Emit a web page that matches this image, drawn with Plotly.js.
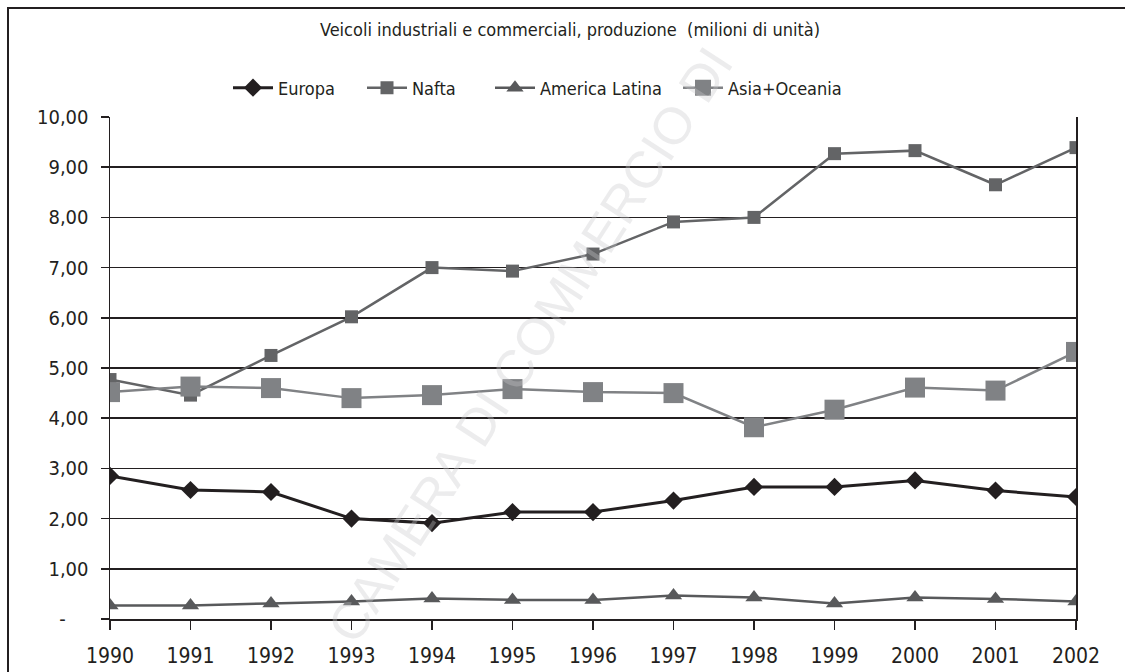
<!DOCTYPE html>
<html>
<head>
<meta charset="utf-8">
<script src="https://cdn.plot.ly/plotly-3.0.1.min.js"></script>
<style>
  html, body { margin: 0; padding: 0; background: #ffffff; }
  #chart { width: 1125px; height: 672px; }
</style>
</head>
<body>
<div id="chart"></div>
<script>
const years = [1990, 1991, 1992, 1993, 1994, 1995, 1996, 1997, 1998, 1999, 2000, 2001, 2002];
const europa = [2.85, 2.57, 2.53, 2.00, 1.91, 2.13, 2.13, 2.36, 2.63, 2.63, 2.76, 2.56, 2.43];
const nafta = [4.77, 4.46, 5.25, 6.02, 7.00, 6.93, 7.27, 7.91, 8.00, 9.27, 9.33, 8.65, 9.39];
const americaLatina = [0.27, 0.27, 0.31, 0.35, 0.41, 0.38, 0.38, 0.47, 0.43, 0.31, 0.43, 0.40, 0.35];
const asiaOceania = [4.52, 4.63, 4.60, 4.40, 4.46, 4.58, 4.52, 4.50, 3.82, 4.17, 4.61, 4.55, 5.32];
const seriesNames = ['Europa', 'Nafta', 'America Latina', 'Asia+Oceania'];
const yTickVals = [0, 1, 2, 3, 4, 5, 6, 7, 8, 9, 10];
const yTickText = ['-\u00a0\u00a0\u00a0\u00a0', '1,00', '2,00', '3,00', '4,00', '5,00', '6,00', '7,00', '8,00', '9,00', '10,00'];
const titleText = 'Veicoli industriali e commerciali, produzione  (milioni di unità)';
const watermarkText = 'CAMERA DI COMMERCIO DI';

const FONT = '"Liberation Sans Narrow", "DejaVu Sans Condensed", "Arial Narrow", sans-serif';
const INK = '#231f20';

const traces = [
  { x: years, y: europa, name: seriesNames[0], mode: 'lines+markers', legend: 'legend',
    line: { color: '#231f20', width: 3 },
    marker: { symbol: 'diamond', size: 14, color: '#231f20' } },
  { x: years, y: nafta, name: seriesNames[1], mode: 'lines+markers', legend: 'legend2',
    line: { color: '#636466', width: 2.5 },
    marker: { symbol: 'square', size: 13, color: '#636466' } },
  { x: years, y: americaLatina, name: seriesNames[2], mode: 'lines+markers', legend: 'legend3',
    line: { color: '#58595b', width: 2.5 },
    marker: { symbol: 'triangle-up', size: 15, color: '#58595b' } },
  { x: years, y: asiaOceania, name: seriesNames[3], mode: 'lines+markers', legend: 'legend4',
    line: { color: '#808285', width: 2.5 },
    marker: { symbol: 'square', size: 20, color: '#808285' } }
];

const L = 110, R = 49, T = 117, B = 53;
const W = 1125, H = 672;
const pw = W - L - R, ph = H - T - B;
const px = v => (v - L) / pw;
const py = v => (H - B - v) / ph;

function legendAt(xpix) {
  return {
    orientation: 'h',
    xref: 'paper', x: px(xpix), xanchor: 'left',
    yref: 'paper', y: py(88), yanchor: 'middle',
    font: { family: FONT, size: 18, color: INK },
    itemwidth: 40,
    bgcolor: 'rgba(0,0,0,0)', borderwidth: 0
  };
}

const layout = {
  width: W, height: H,
  margin: { l: L, r: R, t: T, b: B, pad: 0 },
  paper_bgcolor: '#ffffff',
  plot_bgcolor: '#ffffff',
  font: { family: FONT, color: INK, size: 20 },
  title: {
    text: titleText,
    font: { family: FONT, size: 18, color: INK },
    xref: 'paper', x: px(570), xanchor: 'center',
    yref: 'container', y: 1 - 30 / H, yanchor: 'middle'
  },
  showlegend: true,
  legend: legendAt(228),
  legend2: legendAt(362),
  legend3: legendAt(490),
  legend4: legendAt(678),
  xaxis: {
    type: 'linear',
    range: [1990, 2002],
    tickvals: years,
    ticktext: years.map(String),
    ticks: 'outside', ticklen: 9, tickwidth: 1.5, tickcolor: INK,
    ticklabelstandoff: 8,
    showline: true, linecolor: INK, linewidth: 2,
    showgrid: false, zeroline: false,
    tickfont: { family: FONT, size: 21, color: INK },
    fixedrange: true
  },
  yaxis: {
    range: [0, 10],
    tickvals: yTickVals,
    ticktext: yTickText,
    ticks: 'outside', ticklen: 8, tickwidth: 1.5, tickcolor: INK,
    ticklabelstandoff: 8,
    showline: true, mirror: true, linecolor: INK, linewidth: 1.5,
    showgrid: true, gridcolor: INK, gridwidth: 1.5,
    zeroline: false,
    tickfont: { family: FONT, size: 20, color: INK },
    fixedrange: true
  },
  shapes: [
    { type: 'rect', xref: 'paper', yref: 'paper',
      x0: px(8), x1: px(1140), y0: py(690), y1: py(8),
      line: { color: INK, width: 2 }, fillcolor: 'rgba(0,0,0,0)', layer: 'above' }
  ],
  annotations: [
    { text: watermarkText, xref: 'paper', yref: 'paper',
      x: px(530), y: py(345), xanchor: 'center', yanchor: 'middle',
      textangle: -57, showarrow: false,
      font: { family: '"Liberation Sans", "DejaVu Sans", sans-serif', size: 52, color: 'rgba(200,200,202,0.35)' } }
  ]
};

Plotly.newPlot('chart', traces, layout, { displayModeBar: false, staticPlot: true });
</script>
</body>
</html>
